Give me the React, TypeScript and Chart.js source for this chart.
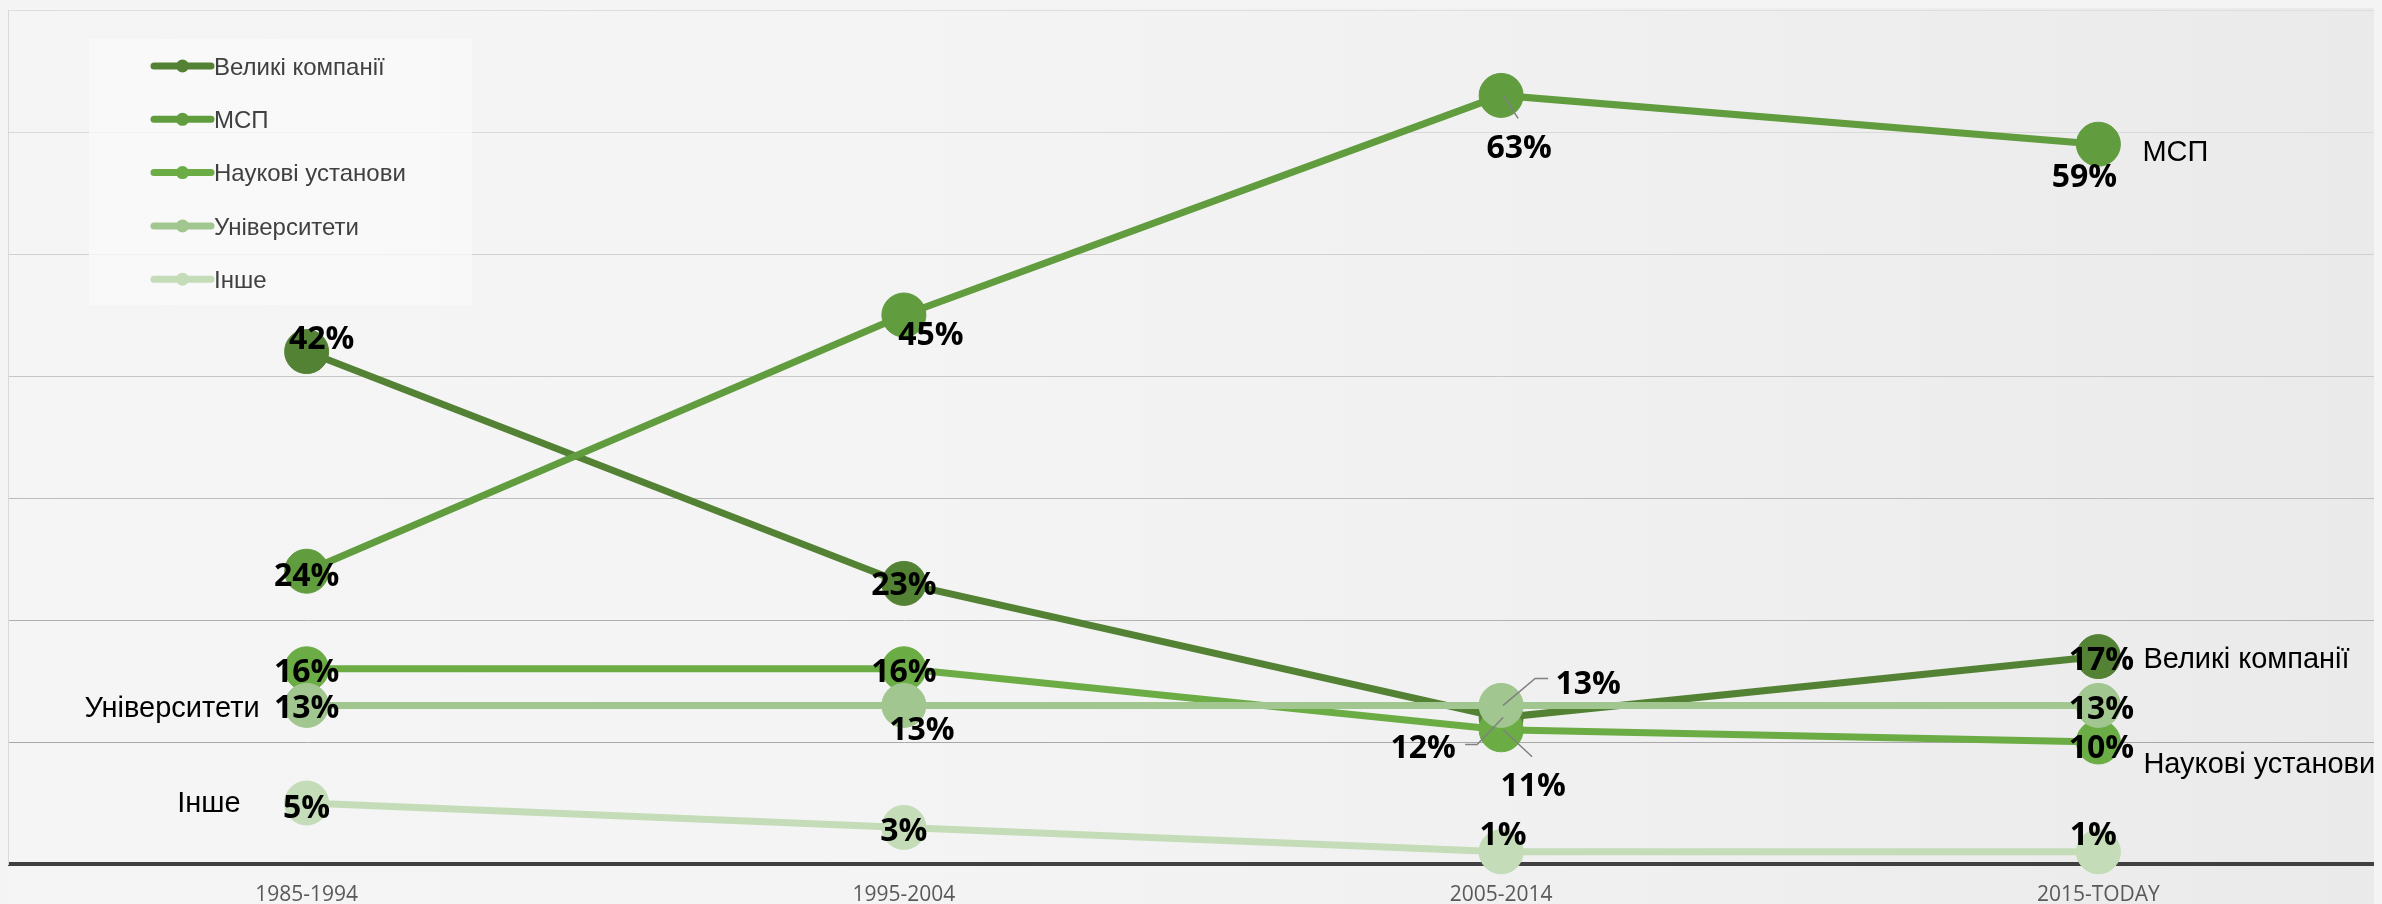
import React, { useEffect, useRef } from 'react';
import { Chart, registerables } from 'chart.js';

Chart.register(...registerables);

// ---- data ----
const categories = ['1985-1994', '1995-2004', '2005-2014', '2015-TODAY'];
const seriesNames = ['Великі компанії', 'МСП', 'Наукові установи', 'Університети', 'Інше'];
const largeCompanies = [42, 23, 12, 17];
const sme = [24, 45, 63, 59];
const research = [16, 16, 11, 10];
const universities = [13, 13, 13, 13];
const other = [5, 3, 1, 1];

// ---- style ----
const colors = ['#548235', '#619C3E', '#6BAC45', '#A2C690', '#C4DCB8'];

// value label offsets (px, relative to the point)
const valueLabelOffsets = [
  [[15, -14], [0, 0], [-78, 29], [3, 2]],
  [[0, 3], [27, 18], [18, 51], [-14, 31]],
  [[0, 2], [0, 2], [32, 55], [3, 4]],
  [[0, 1], [18, 23], [87, -23], [3, 2]],
  [[0, 3], [0, 2], [2, -18], [-5, -18]],
];

// leader lines: [datasetIndex, pointIndex, polyline offsets]
const leaderLines = [
  [0, 2, [[2, 0], [-24, 27], [-36, 27]]],
  [1, 2, [[2, 0], [17, 23]]],
  [2, 2, [[2, 0], [31, 27]]],
  [3, 2, [[2, 0], [34, -27], [47, -27]]],
];

// series-name labels: [datasetIndex, pointIndex, dx, dy, align]
const nameLabels = [
  [3, 0, -47, 1, 'right'],
  [4, 0, -66, -1, 'right'],
  [1, 3, 44, 6, 'left'],
  [0, 3, 45, 1, 'left'],
  [2, 3, 45, 21, 'left'],
];

const gridColors: Record<number, string> = {
  0: 'rgba(0,0,0,0)',
  10: '#a9a9a9',
  20: '#b0b0b0',
  30: '#bcbcbc',
  40: '#c7c7c7',
  50: '#d1d1d1',
  60: '#d9d9d9',
  70: '#dedede',
};

const backgroundPlugin = {
  id: 'bgPlugin',
  beforeDraw(chart: any) {
    const { ctx, width, height } = chart;
    ctx.save();
    const g = ctx.createLinearGradient(0, 0, width, 0);
    g.addColorStop(0, '#f5f5f5');
    g.addColorStop(0.35, '#f4f4f4');
    g.addColorStop(0.6, '#f1f1f1');
    g.addColorStop(1, '#eaeaea');
    ctx.fillStyle = g;
    ctx.fillRect(0, 0, width, height);
    ctx.restore();
  },
};

const legendPlugin = {
  id: 'customLegend',
  afterDraw(chart: any) {
    const ctx = chart.ctx;
    ctx.save();
    ctx.fillStyle = 'rgba(250,250,250,0.75)';
    ctx.fillRect(81, 31, 383, 266);
    const x0 = 146;
    const x1 = 203;
    const textX = 206;
    const startY = 58;
    const step = 53.3;
    ctx.font = '24px "Liberation Sans", Arial, sans-serif';
    ctx.textAlign = 'left';
    ctx.textBaseline = 'alphabetic';
    chart.data.datasets.forEach((ds: any, i: number) => {
      const y = startY + i * step;
      ctx.strokeStyle = ds.borderColor;
      ctx.lineWidth = 7;
      ctx.lineCap = 'round';
      ctx.beginPath();
      ctx.moveTo(x0, y);
      ctx.lineTo(x1, y);
      ctx.stroke();
      ctx.fillStyle = ds.borderColor;
      ctx.beginPath();
      ctx.arc((x0 + x1) / 2, y, 6.5, 0, Math.PI * 2);
      ctx.fill();
      ctx.fillStyle = '#404040';
      ctx.fillText(ds.label, textX, y + 8.6);
    });
    ctx.restore();
  },
};

const labelsPlugin = {
  id: 'pointLabels',
  afterDatasetsDraw(chart: any) {
    const ctx = chart.ctx;
    ctx.save();
    // leader lines
    ctx.strokeStyle = '#808080';
    ctx.lineWidth = 1.5;
    leaderLines.forEach(([di, pi, pts]: any) => {
      const el = chart.getDatasetMeta(di).data[pi];
      ctx.beginPath();
      pts.forEach((p: number[], k: number) => {
        const x = el.x + p[0];
        const y = el.y + p[1];
        if (k === 0) ctx.moveTo(x, y);
        else ctx.lineTo(x, y);
      });
      ctx.stroke();
    });
    // value labels
    ctx.font = 'bold 32px "Open Sans", sans-serif';
    ctx.fillStyle = '#000000';
    ctx.textAlign = 'center';
    ctx.textBaseline = 'alphabetic';
    chart.data.datasets.forEach((ds: any, di: number) => {
      const meta = chart.getDatasetMeta(di);
      meta.data.forEach((el: any, pi: number) => {
        const [dx, dy] = valueLabelOffsets[di][pi];
        ctx.fillText(ds.data[pi] + '%', el.x + dx, el.y + dy + 11.5);
      });
    });
    // series name labels
    ctx.font = '29px "Liberation Sans", Arial, sans-serif';
    nameLabels.forEach(([di, pi, dx, dy, align]: any) => {
      const el = chart.getDatasetMeta(di).data[pi];
      ctx.textAlign = align;
      ctx.fillText(chart.data.datasets[di].label, el.x + dx, el.y + dy + 10.4);
    });
    ctx.restore();
  },
};

const seriesData = [largeCompanies, sme, research, universities, other];

export default function App() {
  const canvasRef = useRef<HTMLCanvasElement | null>(null);

  useEffect(() => {
    document.documentElement.style.overflow = 'hidden';
    document.body.style.overflow = 'hidden';
    document.body.style.background = '#f4f4f4';
    const canvas = canvasRef.current;
    if (!canvas) return;
    const chart = new Chart(canvas, {
      type: 'line',
      data: {
        labels: categories,
        datasets: seriesData.map((d, i) => ({
          label: seriesNames[i],
          data: d,
          borderColor: colors[i],
          backgroundColor: colors[i],
          pointBackgroundColor: colors[i],
          pointBorderColor: colors[i],
          pointBorderWidth: 1,
          pointRadius: 22,
          pointHoverRadius: 22,
          borderWidth: 7,
          tension: 0,
          fill: false,
          clip: false,
          order: 5 - i,
        })),
      },
      options: {
        responsive: false,
        animation: false,
        devicePixelRatio: 1,
        layout: { autoPadding: false, padding: { top: 2, left: 0, right: 0, bottom: 0 } },
        plugins: {
          legend: { display: false },
          tooltip: { enabled: false },
        },
        scales: {
          x: {
            type: 'category',
            offset: true,
            grid: { display: false, drawTicks: false },
            border: { display: true, color: '#404040', width: 4 },
            ticks: {
              color: '#595959',
              font: { family: '"Open Sans", sans-serif', size: 21 },
              padding: 18,
              maxRotation: 0,
              autoSkip: false,
            },
            afterFit: (scale: any) => {
              scale.height = 44;
            },
          },
          y: {
            min: 0,
            max: 70,
            ticks: { display: false, stepSize: 10 },
            grid: {
              drawTicks: false,
              lineWidth: 1,
              color: (ctx: any) => gridColors[ctx.tick?.value] ?? '#cccccc',
            },
            border: { display: true, color: '#d9d9d9', width: 1 },
          },
        },
      },
      plugins: [backgroundPlugin, labelsPlugin, legendPlugin],
    });
    return () => chart.destroy();
  }, []);

  return (
    <div style={{ width: 2389, height: 900 }}>
      <canvas ref={canvasRef} width={2389} height={900} style={{ display: 'block' }} />
    </div>
  );
}
